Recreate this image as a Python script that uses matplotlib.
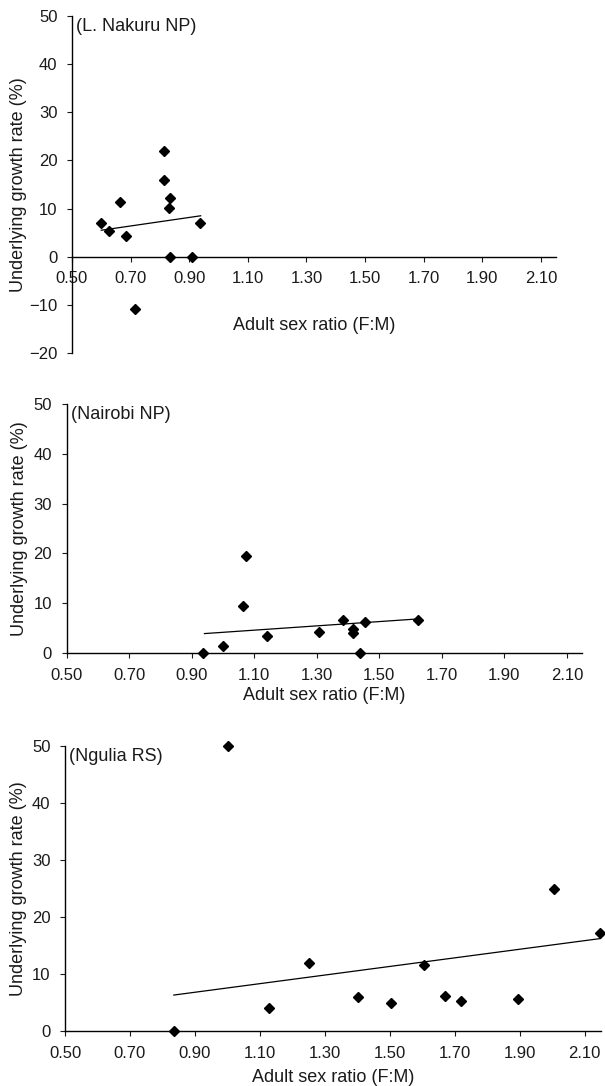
import matplotlib
matplotlib.use('Agg')
import matplotlib.pyplot as plt
import numpy as np

plt.rcParams['font.family'] = ['Liberation Sans', 'DejaVu Sans']

# Data (adult sex ratio F:M, underlying growth rate %)
nakuru_x = [0.600, 0.625, 0.665, 0.683, 0.715, 0.813, 0.813, 0.833, 0.832, 0.833, 0.909, 0.938]
nakuru_y = [7.0, 5.4, 11.3, 4.3, -10.8, 22.0, 16.0, 12.1, 10.2, 0.0, 0.0, 6.9]
nakuru_fit_x = [0.600, 0.939]
nakuru_fit_y = [5.5, 8.5]

nairobi_x = [0.937, 1.000, 1.063, 1.073, 1.142, 1.308, 1.384, 1.417, 1.417, 1.438, 1.455, 1.623]
nairobi_y = [0.0, 1.4, 9.4, 19.4, 3.5, 4.2, 6.7, 4.8, 4.0, 0.0, 6.2, 6.6]
nairobi_fit_x = [0.941, 1.614]
nairobi_fit_y = [3.9, 6.8]

ngulia_x = [0.835, 1.003, 1.128, 1.252, 1.403, 1.504, 1.604, 1.670, 1.718, 1.895, 2.005, 2.148]
ngulia_y = [0.0, 50.0, 4.1, 12.0, 5.9, 4.85, 11.6, 6.2, 5.3, 5.55, 24.9, 17.1]
ngulia_fit_x = [0.835, 2.148]
ngulia_fit_y = [6.3, 16.2]

x_ticks = [0.50, 0.70, 0.90, 1.10, 1.30, 1.50, 1.70, 1.90, 2.10]
site_names = ['(L. Nakuru NP)', '(Nairobi NP)', '(Ngulia RS)']

W, H = 605, 1086
fig = plt.figure(figsize=(W / 100, H / 100), dpi=100)

# axes boxes in pixels: left, right, top, bottom
boxes = [(72, 555.5, 16, 353), (66.6, 582.5, 404, 653), (65, 601, 745.7, 1031)]
ylims = [(-20, 50), (0, 50), (0, 50)]
xlabel_y = [325, 695, 1077]
ylabel_x = 19
txt_col = '#1a1a1a'

panels = [
    (nakuru_x, nakuru_y, nakuru_fit_x, nakuru_fit_y),
    (nairobi_x, nairobi_y, nairobi_fit_x, nairobi_fit_y),
    (ngulia_x, ngulia_y, ngulia_fit_x, ngulia_fit_y),
]

for i, (xs, ys, fx, fy) in enumerate(panels):
    l, r, t, b = boxes[i]
    ax = fig.add_axes([l / W, 1 - b / H, (r - l) / W, (b - t) / H])
    ax.set_xlim(0.5, 2.15)
    ax.set_ylim(*ylims[i])

    ax.plot(fx, fy, color='black', lw=0.9)
    ax.plot(xs, ys, 'D', color='black', ms=5, clip_on=False)

    for s in ['top', 'right']:
        ax.spines[s].set_visible(False)
    ax.spines['bottom'].set_position(('data', 0))
    for s in ['left', 'bottom']:
        ax.spines[s].set_linewidth(1.0)

    ax.set_xticks(x_ticks)
    ax.set_xticklabels([f'{v:.2f}' for v in x_ticks])
    ax.set_yticks(np.arange(ylims[i][0], 51, 10))
    ax.tick_params(axis='both', labelsize=12, colors=txt_col, length=3.5, width=0.8)
    ax.tick_params(axis='x', pad=7)
    ax.tick_params(axis='y', pad=7)

    ax.set_xlabel('Adult sex ratio (F:M)', fontsize=13, color=txt_col, va='center')
    ax.xaxis.set_label_coords(0.5, (b - xlabel_y[i]) / (b - t))
    ax.set_ylabel('Underlying growth rate (%)', fontsize=13, color=txt_col, va='center')
    ax.yaxis.set_label_coords((ylabel_x - l) / (r - l), 0.5)

    ax.text(0.008, 1 - 10.5 / (b - t), site_names[i], transform=ax.transAxes,
            fontsize=13, color=txt_col, ha='left', va='center')

fig.savefig('out.png', dpi=100)
